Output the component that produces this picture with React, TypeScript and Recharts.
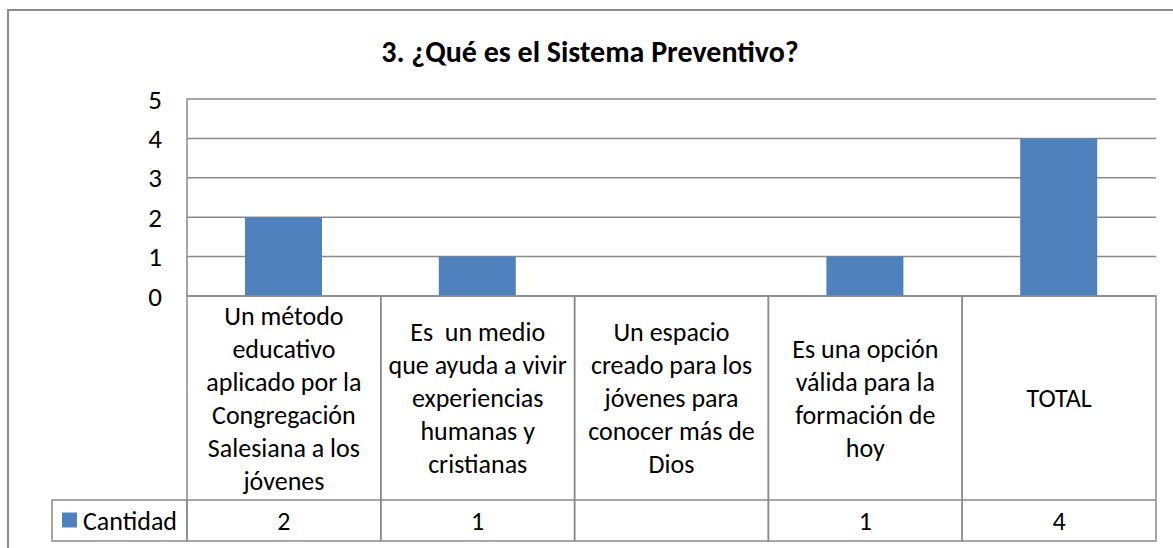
import { Bar, BarChart, CartesianGrid, XAxis, YAxis } from "recharts";

const title = "3. ¿Qué es el Sistema Preventivo?";
const seriesName = "Cantidad";

const categories = [
  "Un método educativo aplicado por la Congregación Salesiana a los jóvenes",
  "Es  un medio que ayuda a vivir experiencias humanas y cristianas",
  "Un espacio creado para los jóvenes para conocer más de Dios",
  "Es una opción válida para la formación de hoy",
  "TOTAL",
];

// how Excel wrapped each label in the data table
const categoryLines = [
  ["Un método", "educativo", "aplicado por la", "Congregación", "Salesiana a los", "jóvenes"],
  ["Es  un medio", "que ayuda a vivir", "experiencias", "humanas y", "cristianas"],
  ["Un espacio", "creado para los", "jóvenes para", "conocer más de", "Dios"],
  ["Es una opción", "válida para la", "formación de", "hoy"],
  ["TOTAL"],
];

const cantidad = [2, 1, null, 1, 4];
const yTicks = [0, 1, 2, 3, 4, 5];

const data = categories.map((name, i) => ({ name, cantidad: cantidad[i] }));

const W = 1173;
const H = 548;
const PLOT_LEFT = 187;
const PLOT_RIGHT = 1156;
const COL_W = (PLOT_RIGHT - PLOT_LEFT) / categories.length;
const CAT_ROW_H = 204;
const VAL_ROW_H = 41;
const LEGEND_LEFT = 52;

const FONT = "Carlito, Lato, 'Open Sans', sans-serif";
const FS = 26;
const LINE = "#8a8a8a";
const BLUE = "#4f81bd";

function TableTick(props: any) {
  const { x, y, payload, index } = props;
  const top = y;
  const left = x - COL_W / 2;
  const lines = categoryLines[index] || [payload.value];
  const lh = 33;
  const midY = top + CAT_ROW_H / 2;
  const firstY = midY - ((lines.length - 1) * lh) / 2;
  const valY = top + CAT_ROW_H + VAL_ROW_H / 2;
  const v = cantidad[index];
  return (
    <g>
      <rect
        x={left}
        y={top}
        width={COL_W}
        height={CAT_ROW_H + VAL_ROW_H}
        fill="none"
        stroke={LINE}
        strokeWidth={1.5}
      />
      <line
        x1={left}
        x2={left + COL_W}
        y1={top + CAT_ROW_H}
        y2={top + CAT_ROW_H}
        stroke={LINE}
        strokeWidth={1.5}
      />
      <text
        textAnchor="middle"
        fontFamily={FONT}
        fontSize={FS}
        fill="#000"
        style={{ whiteSpace: "pre" }}
      >
        {lines.map((l: string, i: number) => (
          <tspan key={i} x={x} y={firstY + i * lh} dominantBaseline="central">
            {l}
          </tspan>
        ))}
      </text>
      {v != null && (
        <text
          x={x}
          y={valY}
          textAnchor="middle"
          dominantBaseline="central"
          fontFamily={FONT}
          fontSize={FS}
          fill="#000"
        >
          {v}
        </text>
      )}
      {index === 0 && (
        <g>
          <rect
            x={LEGEND_LEFT}
            y={top + CAT_ROW_H}
            width={left - LEGEND_LEFT}
            height={VAL_ROW_H}
            fill="none"
            stroke={LINE}
            strokeWidth={1.5}
          />
          <rect x={62} y={valY - 8} width={15} height={15} fill={BLUE} />
          <text
            x={83}
            y={valY}
            dominantBaseline="central"
            fontFamily={FONT}
            fontSize={FS}
            fill="#000"
          >
            {seriesName}
          </text>
        </g>
      )}
    </g>
  );
}

export default function App() {
  return (
    <div
      style={{
        position: "absolute",
        left: 0,
        top: 0,
        width: W,
        height: H,
        overflow: "hidden",
        background: "#fff",
      }}
    >
      <div
        style={{
          position: "absolute",
          left: 7,
          top: 9,
          width: W + 20,
          height: H + 20,
          border: "2px solid #8a8a8a",
          boxSizing: "border-box",
        }}
      />
      <div
        style={{
          position: "absolute",
          left: 0,
          width: 1180,
          top: 33,
          textAlign: "center",
          fontFamily: FONT,
          fontWeight: "bold",
          fontSize: 30,
          lineHeight: "37px",
          color: "#000",
        }}
      >
        {title}
      </div>
      <div style={{ position: "absolute", left: 0, top: 0 }}>
        <BarChart
          width={W}
          height={H}
          data={data}
          margin={{ top: 99, right: W - PLOT_RIGHT, bottom: 7, left: PLOT_LEFT - 60 }}
          barSize={77}
        >
          <CartesianGrid
            vertical={false}
            stroke={LINE}
            strokeWidth={1.5}
          />
          <XAxis
            dataKey="name"
            height={CAT_ROW_H + VAL_ROW_H}
            tickLine={false}
            axisLine={false}
            tickSize={0}
            tickMargin={0}
            interval={0}
            tick={<TableTick />}
          />
          <YAxis
            width={60}
            domain={[0, 5]}
            ticks={yTicks}
            tickLine={false}
            tickSize={0}
            tickMargin={25}
            axisLine={{ stroke: LINE, strokeWidth: 1.5 }}
            tick={{ fill: "#000", fontSize: 27, fontFamily: FONT }}
          />
          <Bar dataKey="cantidad" fill={BLUE} isAnimationActive={false} />
        </BarChart>
      </div>
    </div>
  );
}
